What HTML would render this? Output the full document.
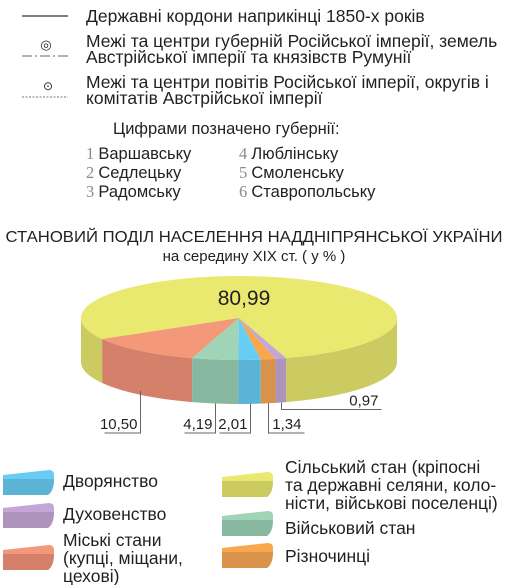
<!DOCTYPE html>
<html><head><meta charset="utf-8">
<style>
body{margin:0;width:508px;height:585px;background:#fff;overflow:hidden;font-family:"Liberation Sans",sans-serif;color:#231f20}
svg{position:absolute;left:0;top:0}
text{font-family:"Liberation Sans",sans-serif;fill:#231f20}
.serif{font-family:"Liberation Serif",serif;fill:#8a8a8a}
</style></head>
<body>
<svg id="chart" width="508" height="585" viewBox="0 0 508 585">
  <g>
    <line x1="22" y1="16" x2="68" y2="16" stroke="#555" stroke-width="1.5"/>
    <text x="86" y="22" font-size="17.5">Державні кордони наприкінці 1850-х років</text>
    <text x="46" y="49" font-size="13" text-anchor="middle" fill="#444">◎</text>
    <line x1="22" y1="56" x2="68" y2="56" stroke="#666" stroke-width="1" stroke-dasharray="10,3,2,3"/>
    <text x="86" y="47" font-size="17.5">Межі та центри губерній Російської імперії, земель</text>
    <text x="86" y="63" font-size="17.5">Австрійської імперії та князівств Румунії</text>
    <text x="48" y="90" font-size="12" text-anchor="middle" fill="#444">⊙</text>
    <line x1="22" y1="97" x2="68" y2="97" stroke="#777" stroke-width="1" stroke-dasharray="2,1.5"/>
    <text x="86" y="88" font-size="17.5">Межі та центри повітів Російської імперії, округів і</text>
    <text x="86" y="104" font-size="17.5">комітатів Австрійської імперії</text>
    <text x="113" y="134" font-size="16.5">Цифрами позначено губернії:</text>
    <text x="86" y="159" font-size="16.5"><tspan class="serif">1 </tspan>Варшавську</text>
    <text x="86" y="178" font-size="16.5"><tspan class="serif">2 </tspan>Седлецьку</text>
    <text x="86" y="197" font-size="16.5"><tspan class="serif">3 </tspan>Радомську</text>
    <text x="239" y="159" font-size="16.5"><tspan class="serif">4 </tspan>Люблінську</text>
    <text x="239" y="178" font-size="16.5"><tspan class="serif">5 </tspan>Смоленську</text>
    <text x="239" y="197" font-size="16.5"><tspan class="serif">6 </tspan>Ставропольську</text>
  </g>
  <text x="254" y="242" font-size="15.6" text-anchor="middle" textLength="497" lengthAdjust="spacingAndGlyphs">СТАНОВИЙ ПОДІЛ НАСЕЛЕННЯ НАДДНІПРЯНСЬКОЇ УКРАЇНИ</text>
  <text x="254" y="261" font-size="15" text-anchor="middle">на середину XIX ст. ( у % )</text>
  <g id="pie"></g>
  <g id="legend"></g>
</svg>
<script>
const categories = ["Сільський стан","Міські стани","Військовий стан","Дворянство","Різночинці","Духовенство"];
const values = [80.99, 10.50, 4.19, 2.01, 1.34, 0.97];
const valueLabels = ["80,99","10,50","4,19","2,01","1,34","0,97"];
const topColors = ["#e9e86f","#f4987a","#9fd4b7","#67cdf5","#f9a74d","#c4a6d6"];
const sideColors = ["#cccb62","#d5806a","#88b9a0","#5bb3d6","#d9924a","#ad94bd"];

const NS="http://www.w3.org/2000/svg";
const cx=239, cy=318, rx=158, ry=42, depth=44, startDeg=150, spread=1.13;
const pie=document.getElementById('pie');
function P(a,dy){const r=a*Math.PI/180;return [cx+rx*Math.cos(r), cy+ry*Math.sin(r)+(dy||0)];}
function mk(tag,attrs){const e=document.createElementNS(NS,tag);for(const k in attrs)e.setAttribute(k,attrs[k]);return e;}
const total=values.reduce((a,b)=>a+b,0);
const ranges=[];let a=startDeg;
for(let i=1;i<values.length;i++){const span=values[i]/total*360*spread;ranges[i]=[a-span,a];a-=span;}
ranges[0]=[startDeg, a+360];
function arcPath(a1,a2,dy){
  const n=Math.max(2,Math.ceil((a2-a1)/3));let d="";
  for(let k=0;k<=n;k++){const p=P(a1+(a2-a1)*k/n,dy);d+=(k?"L":"M")+p[0].toFixed(2)+","+p[1].toFixed(2);}
  return d;
}
function sidePiece(a1,a2,col,name){
  const lo=Math.max(a1,0), hi=Math.min(a2,180);
  if(hi<=lo)return;
  let d=arcPath(lo,hi,0);
  const n=Math.max(2,Math.ceil((hi-lo)/3));
  for(let k=n;k>=0;k--){const p=P(lo+(hi-lo)*k/n,depth);d+="L"+p[0].toFixed(2)+","+p[1].toFixed(2);}
  d+="Z";
  const e=mk('path',{d:d,fill:col});
  
  
  pie.appendChild(e);
}
for(let i=0;i<values.length;i++){
  let [a1,a2]=ranges[i];
  const name='slice-side-'+i;
  sidePiece(a1,a2,sideColors[i],name);
  sidePiece(a1-360,a2-360,sideColors[i],name);
}
for(let i=0;i<values.length;i++){
  const [a1,a2]=ranges[i];
  const d="M"+cx+","+cy+"L"+arcPath(a1,a2,0).slice(1)+"Z";
  const e=mk('path',{d:d,fill:topColors[i]});
  
  
  pie.appendChild(e);
}
const big=mk('text',{x:244,y:305,'font-size':21,'text-anchor':'middle'});
big.textContent=valueLabels[0];


pie.appendChild(big);
const dir=[0,-1,-1,-1,1,1];
const hLen=[0,36,31,31,36,100];
for(let i=1;i<values.length;i++){
  const [a1,a2]=ranges[i];const m=P((a1+a2)/2,depth);
  let x=Math.round(m[0])+0.5, y0=m[1]; if(i===1){y0-=4;}
  const y1=(i===5)?y0+7:433;
  const x2=x+dir[i]*hLen[i];
  const l=mk('path',{d:`M${x},${y0}L${x},${y1}L${x2},${y1}`,fill:'none',stroke:'#666','stroke-width':1});
  
  
  pie.appendChild(l);
  const t=mk('text',{x:dir[i]<0?x-3:x2-3,y:y1-4,'font-size':15,'text-anchor':'end'});
  t.textContent=valueLabels[i];
  
  
  pie.appendChild(t);
}
const lg=document.getElementById('legend');
const items=[
 {i:3,x:3,y:470,tx:63,lines:["Дворянство"],ty:487},
 {i:5,x:3,y:503,tx:63,lines:["Духовенство"],ty:520},
 {i:1,x:3,y:545,tx:63,lines:["Міські стани","(купці, міщани,","цехові)"],ty:546},
 {i:0,x:222,y:472,tx:285,lines:["Сільський стан (кріпосні","та державні селяни, коло-","ністи, військові поселенці)"],ty:473},
 {i:2,x:222,y:511,tx:285,lines:["Військовий стан"],ty:534},
 {i:4,x:222,y:543,tx:285,lines:["Різночинці"],ty:562}
];
items.forEach(it=>{
  const g=mk('g',{transform:`translate(${it.x},${it.y})`});
  
  
  g.appendChild(mk('path',{d:"M0,5 L46,0 Q51,0 51,5 L51,9 L0,9 Z",fill:topColors[it.i]}));
  g.appendChild(mk('path',{d:"M0,9 L51,9 Q51,21 45,25 L0,25 Z",fill:sideColors[it.i]}));
  lg.appendChild(g);
  it.lines.forEach((s,k)=>{
    const t=mk('text',{x:it.tx,y:it.ty+k*18,'font-size':17.5});
    t.textContent=s;
    
    
    lg.appendChild(t);
  });
});
</script>
</body></html>
